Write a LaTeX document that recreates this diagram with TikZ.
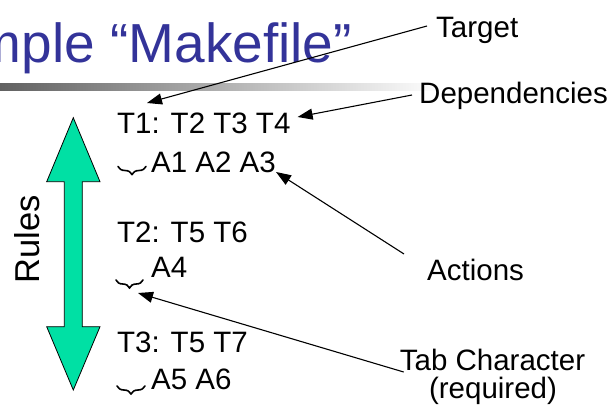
\documentclass[tikz,border=0pt]{standalone}
\usepackage{fontspec}
\setmainfont{Liberation Sans}
\usetikzlibrary{arrows.meta,decorations.pathreplacing,calc}
\definecolor{titleblue}{RGB}{51,51,153}
\definecolor{mint}{RGB}{0,224,164}
\begin{document}
\begin{tikzpicture}[x=1pt,y=-1pt,
  txt/.style={inner sep=0pt, anchor=base west, font=\fontsize{29.5}{30}\selectfont},
  arr/.style={line width=1.1pt, -{Triangle[length=15pt,width=11pt]}},
  tabbrace/.style={line width=1.6pt, line cap=round, decorate, decoration={brace, mirror, amplitude=8pt}},
  bigarrow/.style={fill=mint, draw=black, line width=0.8pt, line join=miter}]
\useasboundingbox (0,0) rectangle (616,407);
% title bar
\shade[left color=black!62, right color=white] (0,83) rectangle (440,90);
\node[text=titleblue, inner sep=0pt, anchor=base east, font=\fontsize{55}{60}\selectfont] (title) at (352,62) {mple “Makefile”};
% big double arrow
\draw[bigarrow] (73.3,117.7) -- (100,181.7) -- (82.3,181.7) -- (82.3,326.7) -- (100,326.7) -- (73.3,390) -- (46.7,326.7) -- (64.3,326.7) -- (64.3,181.7) -- (46.7,181.7) -- cycle;
\node[rotate=90, inner sep=0pt, font=\fontsize{34.5}{36}\selectfont] (rules) at (27,239) {Rules};
% code lines
\node[txt] (t1) at (117,133) {T1: T2 T3 T4};
\node[txt] (a1) at (151,172) {A1 A2 A3};
\node[txt] (t2) at (117,242) {T2: T5 T6};
\node[txt] (a4) at (151,277) {A4};
\node[txt] (t3) at (117,352) {T3: T5 T7};
\node[txt] (a5) at (151,389) {A5 A6};
% tab braces
\draw[tabbrace] (118,166.5) -- (146,166.5);
\draw[tabbrace] (116,280) -- (143,280);
\draw[tabbrace] (117,386) -- (145,386);
% labels
\node[txt] (target) at (436,37) {Target};
\node[txt] (deps) at (419,103) {Dependencies};
\node[txt] (actions) at (427,280) {Actions};
\node[txt, anchor=base] (tab1) at (492.5,370) {Tab Character};
\node[txt, anchor=base] (tab2) at (493,398) {(required)};
% connectors
\draw[arr] ($(target.base west)+(-9,-11)$) -- ($(t1.base west)+(30,-30)$);
\draw[arr] ($(deps.base west)+(-7,-8)$) -- ($(t1.base east)+(7,-16)$);
\draw[arr] ($(actions.base west)+(-23,-26)$) -- ($(a1.base east)+(0,0)$);
\draw[arr] ($(tab1.base west)+(4,2)$) -- ($(a4.base west)+(-13,16)$);
\end{tikzpicture}
\end{document}
